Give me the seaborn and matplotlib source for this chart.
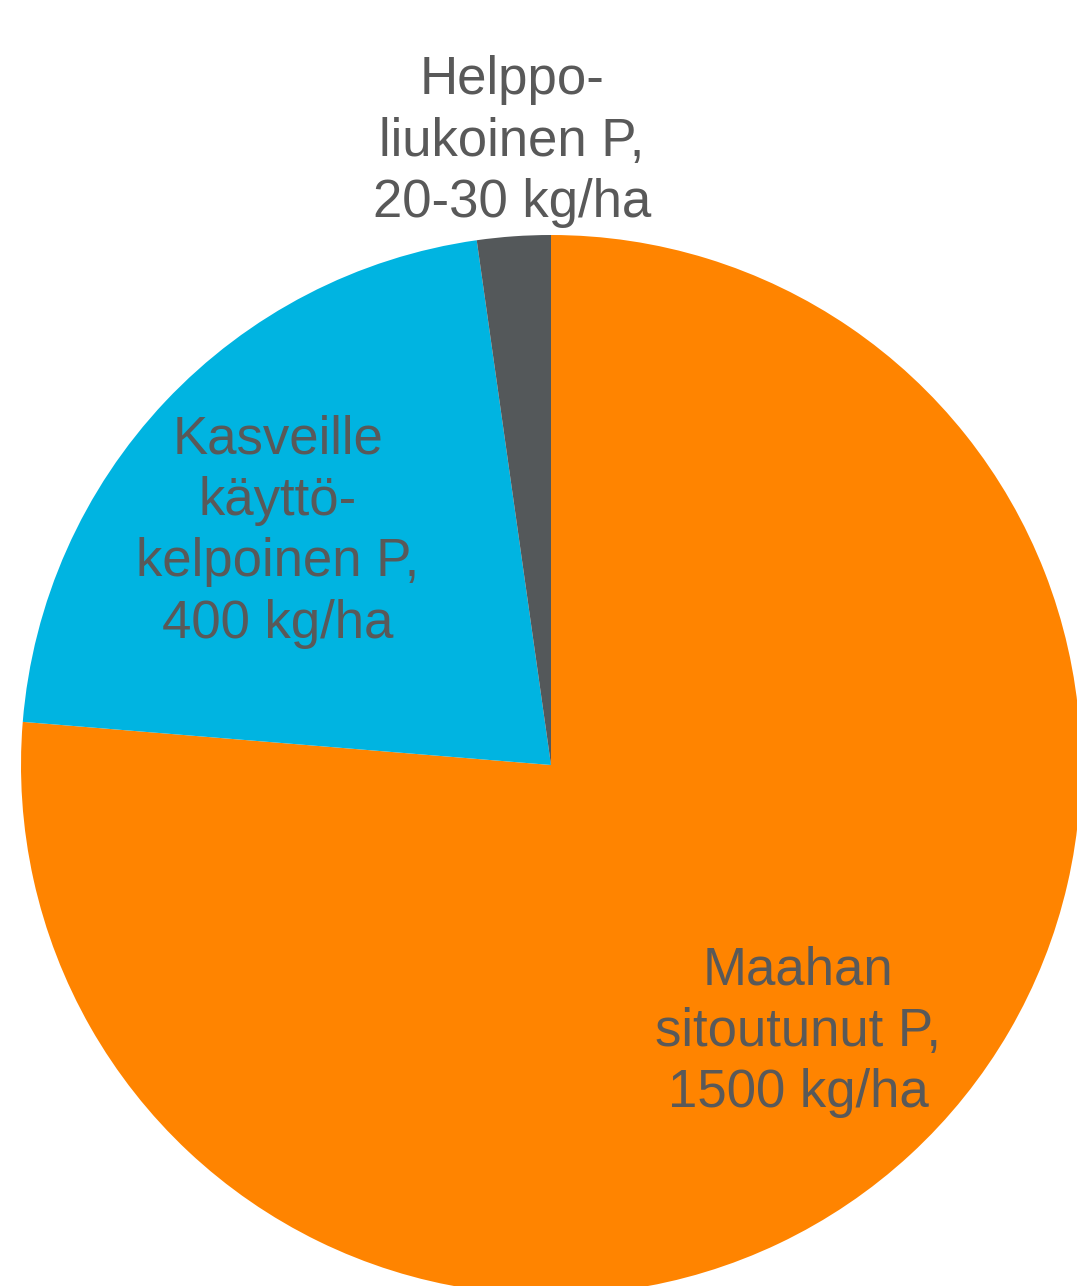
import matplotlib
matplotlib.use("Agg")
import matplotlib.pyplot as plt
import seaborn as sns

# Phosphorus pools in soil (wedge sizes)
labels = ["Maahan\nsitoutunut P,\n1500 kg/ha",
          "Kasveille\nkäyttö-\nkelpoinen P,\n400 kg/ha",
          "Helppo-\nliukoinen P,\n20-30 kg/ha"]
values = [1500, 422, 44]
colors = ["#FF8400", "#00B4E1", "#54585A"]

# label positions in pie (radius=1) coordinates
label_x = [0.466, -0.515, -0.074]
label_y = [-0.503, 0.440, 1.176]

sns.set_style("white")
plt.rcParams['font.family'] = ['Liberation Sans', 'DejaVu Sans']

W, H = 1077, 1286
fig = plt.figure(figsize=(W / 100, H / 100), dpi=100)
cx, cy, r = 551, 765, 530
ax = fig.add_axes([(cx - r) / W, (H - cy - r) / H, 2 * r / W, 2 * r / H])

ax.pie(values, colors=colors, startangle=90, counterclock=False,
       radius=1, wedgeprops=dict(linewidth=0))
ax.set_xlim(-1, 1)
ax.set_ylim(-1, 1)
ax.axis("off")

for lab, x, y in zip(labels, label_x, label_y):
    ax.text(x, y, lab, ha="center", va="center", fontsize=38,
            color="#595959", linespacing=1.29, clip_on=False)

fig.savefig("out.png", dpi=100)
